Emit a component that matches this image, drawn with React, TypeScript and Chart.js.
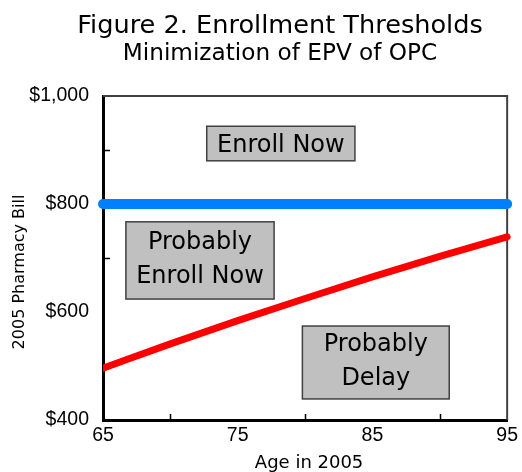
import { useEffect, useRef } from "react";
import { Chart, registerables } from "chart.js";
Chart.register(...registerables);

// ---- data ----
const ages = [65, 70, 75, 80, 85, 90, 95];
const delayThreshold = [496, 541, 584, 625, 665, 703, 739];
const enrollAges = [65, 95];
const enrollThreshold = [800, 800];
const xTickLabels = [65, 75, 85, 95];
const yTickLabels = [400, 600, 800, 1000];
const xMinorTicks = [70, 80, 90];
const yMinorTicks = [700, 900];
const regionLabels = [["Enroll Now"], ["Probably", "Enroll Now"], ["Probably", "Delay"]];
const regionAgeRanges = [[72.7, 83.7], [66.7, 77.7], [79.8, 90.7]];
const regionBillRanges = [[880, 944], [624, 767], [439, 574]];
const titleText = "Figure 2. Enrollment Thresholds";
const subtitleText = "Minimization of EPV of OPC";
const xTitle = "Age in 2005";
const yTitle = "2005 Pharmacy Bill";

const SANS = "'DejaVu Sans', Verdana, sans-serif";

const decorPlugin = {
  id: "decor",
  beforeDatasetsDraw(chart: any) {
    const { ctx, chartArea } = chart;
    const xs = chart.scales.x;
    const ys = chart.scales.y;
    ctx.save();
    // top & right frame
    ctx.strokeStyle = "#404040";
    ctx.lineWidth = 2;
    ctx.beginPath();
    ctx.moveTo(chartArea.left, chartArea.top);
    ctx.lineTo(chartArea.right, chartArea.top);
    ctx.lineTo(chartArea.right, chartArea.bottom);
    ctx.stroke();
    // inner minor ticks
    ctx.strokeStyle = "#000";
    ctx.lineWidth = 1.5;
    ctx.beginPath();
    for (const v of yMinorTicks) {
      const y = Math.round(ys.getPixelForValue(v)) + 0.5;
      ctx.moveTo(chartArea.left, y);
      ctx.lineTo(chartArea.left + 7, y);
    }
    for (const v of xMinorTicks) {
      const x = Math.round(xs.getPixelForValue(v)) + 0.5;
      ctx.moveTo(x, chartArea.bottom);
      ctx.lineTo(x, chartArea.bottom - 6);
    }
    ctx.stroke();
    ctx.restore();
  },
  afterDatasetsDraw(chart: any) {
    const { ctx } = chart;
    const xs = chart.scales.x;
    const ys = chart.scales.y;
    ctx.save();
    regionLabels.forEach((lines, i) => {
      const x1 = xs.getPixelForValue(regionAgeRanges[i][0]);
      const x2 = xs.getPixelForValue(regionAgeRanges[i][1]);
      const y1 = ys.getPixelForValue(regionBillRanges[i][1]);
      const y2 = ys.getPixelForValue(regionBillRanges[i][0]);
      ctx.fillStyle = "#c0c0c0";
      ctx.fillRect(x1, y1, x2 - x1, y2 - y1);
      ctx.strokeStyle = "#404040";
      ctx.lineWidth = 1.5;
      ctx.strokeRect(x1, y1, x2 - x1, y2 - y1);
      ctx.fillStyle = "#000";
      ctx.font = `24px ${SANS}`;
      ctx.textAlign = "center";
      ctx.textBaseline = "alphabetic";
      const cx = (x1 + x2) / 2;
      const cy = (y1 + y2) / 2 - (lines.length > 1 ? 3 : 0);
      const lh = 34;
      const cap = 17.5;
      lines.forEach((t, j) => {
        const c = cy + (j - (lines.length - 1) / 2) * lh;
        ctx.fillText(t, cx, c + cap / 2);
      });
    });
    ctx.restore();
  },
  afterDraw(chart: any) {
    const { ctx, chartArea } = chart;
    ctx.save();
    ctx.fillStyle = "#000";
    ctx.textAlign = "center";
    ctx.textBaseline = "alphabetic";
    ctx.font = `25.6px ${SANS}`;
    ctx.fillText(titleText, 280, 33);
    ctx.font = `23.2px ${SANS}`;
    ctx.fillText(subtitleText, 280, 60);
    ctx.font = `18px ${SANS}`;
    ctx.fillText(xTitle, (chartArea.left + chartArea.right) / 2 + 4, 468);
    ctx.font = `16px ${SANS}`;
    ctx.translate(24, 272);
    ctx.rotate(-Math.PI / 2);
    ctx.fillText(yTitle, 0, 0);
    ctx.restore();
  },
};

export default function App() {
  const ref = useRef<HTMLCanvasElement>(null);
  useEffect(() => {
    if (!ref.current) return;
    const chart = new Chart(ref.current, {
      type: "line",
      data: {
        datasets: [
          {
            data: enrollAges.map((a, i) => ({ x: a, y: enrollThreshold[i] })),
            borderColor: "#0080ff",
            borderWidth: 10,
            borderCapStyle: "round",
            pointRadius: 0,
            clip: false,
          },
          {
            data: ages.map((a, i) => ({ x: a, y: delayThreshold[i] })),
            borderColor: "#ff0000",
            borderWidth: 7,
            borderCapStyle: "round",
            borderJoinStyle: "round",
            pointRadius: 0,
            cubicInterpolationMode: "monotone",
            clip: { left: 0, right: 10, top: 10, bottom: 10 },
          },
        ],
      } as any,
      options: {
        animation: false,
        responsive: false,
        devicePixelRatio: 1,
        layout: { padding: { top: 96, right: 12, left: 0, bottom: 0 } },
        plugins: { legend: { display: false }, tooltip: { enabled: false } },
        scales: {
          x: {
            type: "linear",
            min: 65,
            max: 95,
            afterFit: (s: any) => { s.height = 52; },
            grid: { display: false, drawTicks: false },
            border: { display: true, color: "#000", width: 3 },
            ticks: {
              stepSize: 5,
              autoSkip: false,
              maxRotation: 0,
              padding: 4,
              color: "#000",
              font: { family: "'Liberation Sans', Arial, sans-serif", size: 19.5 },
              callback: (v: any) => (xTickLabels.includes(Number(v)) ? String(v) : ""),
            },
          },
          y: {
            type: "linear",
            min: 400,
            max: 1000,
            afterFit: (s: any) => { s.width = 103; },
            grid: { display: false, drawTicks: false },
            border: { display: true, color: "#000", width: 3 },
            ticks: {
              stepSize: 100,
              autoSkip: false,
              padding: 14,
              color: "#000",
              font: { family: "'Liberation Sans', Arial, sans-serif", size: 19.5 },
              callback: (v: any) =>
                yTickLabels.includes(Number(v)) ? "$" + Number(v).toLocaleString("en-US") : "",
            },
          },
        },
      } as any,
      plugins: [decorPlugin],
    });
    return () => chart.destroy();
  }, []);
  return (
    <div style={{ position: "absolute", left: 0, top: 0, width: 522, height: 472, background: "#fff" }}>
      <canvas ref={ref} width={522} height={472} style={{ width: 522, height: 472 }} />
    </div>
  );
}
